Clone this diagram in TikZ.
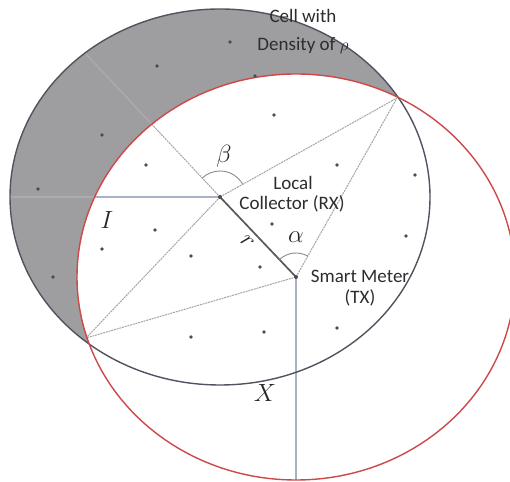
\documentclass[tikz,border=0pt]{standalone}
\usepackage{fontspec}
\setmainfont{Carlito}
\usetikzlibrary{calc}
\definecolor{cellgray}{RGB}{158,158,160}
\definecolor{celledge}{RGB}{80,84,96}
\definecolor{rangered}{RGB}{206,72,72}
\definecolor{guide}{RGB}{168,178,196}
\definecolor{chord}{RGB}{165,165,165}
\definecolor{txt}{RGB}{45,45,45}
\tikzset{
  chordline/.style={draw=chord, line width=1pt, dash pattern=on 2pt off 0.8pt},
  guideline/.style={draw=guide, line width=1.1pt},
  faintline/.style={draw=white, line width=1.2pt, opacity=0.15},
  linkline/.style={draw=black!65, line width=1.7pt},
  anglearc/.style={draw=black!45, line width=0.9pt},
  userdot/.style={circle, fill=black!70, inner sep=0pt, minimum size=3.6pt},
  lbl/.style={text=txt, font=\fontsize{19}{22}\selectfont, inner sep=0pt, align=center},
  mathlbl/.style={text=black!85, font=\fontsize{25}{28}\selectfont, inner sep=0pt}
}
\begin{document}
\begin{tikzpicture}[x=1pt,y=1pt]
\useasboundingbox (0,0) rectangle (510,481);
\coordinate (RX) at (220,284);
\coordinate (TX) at (296,204);
\coordinate (P1) at (397,383);
\coordinate (P2) at (86,143);
\coordinate (Lend) at (10,284);
\coordinate (Eend) at (85,428);
\coordinate (Bend) at (296,1);
% cell fill
\fill[cellgray] (RX) ellipse [x radius=210, y radius=188];
% faint guide lines inside the shaded cell
\draw[faintline] (RX) -- (Lend);
\draw[faintline] (RX) -- (Eend);
% coverage region
\fill[white] (TX) ellipse [x radius=219, y radius=203];
\begin{scope}
  \clip (TX) ellipse [x radius=219, y radius=203];
  \draw[guideline] (RX) -- (Lend);
  \draw[chordline] (RX) -- (Eend);
\end{scope}
\draw[guideline] (TX) -- (Bend);
\draw[chordline] (RX) -- (P1);
\draw[chordline] (RX) -- (P2);
\draw[chordline] (TX) -- (P1);
\draw[chordline] (TX) -- (P2);
\draw[linkline] (RX) -- (TX);
% angle arcs
\draw[anglearc] ($(RX)+(29.2:26)$) arc[start angle=29.2, end angle=133.4, radius=26];
\draw[anglearc] ($(TX)+(60.6:24)$) arc[start angle=60.6, end angle=133.5, radius=24];
% outlines
\draw[celledge, line width=1.4pt] (RX) ellipse [x radius=210, y radius=188];
\draw[rangered, line width=1.4pt] (TX) ellipse [x radius=219, y radius=203];
% users
\foreach \px/\py [count=\i] in {230/439,157/415,255/405,274/366,102/346,146/316,337/316,415/306,38/292,155/251,272/257,406/245,102/232,191/225,260/214,53/204,191/144,264/149,337/153}
  \node[userdot] (u\i) at (\px,\py) {};
\node[userdot, minimum size=4pt] (rxdot) at (RX) {};
\node[userdot, minimum size=4pt] (txdot) at (TX) {};
% labels
\node[lbl] (cell1) at (303,465) {Cell with};
\node[lbl] (cell2) at (303,435) {Density of $\rho$};
\node[lbl] (local) at (293,298) {Local};
\node[lbl] (coll) at (292,277) {Collector (RX)};
\node[lbl] (sm) at (360,205) {Smart Meter};
\node[lbl] (tx) at (360,183) {(TX)};
\node[mathlbl] (beta) at (224,325) {$\beta$};
\node[mathlbl] (alpha) at (296,244) {$\alpha$};
\node[mathlbl] (I) at (107,261) {$I$};
\node[mathlbl] (X) at (265,88) {$X$};
\node[mathlbl, rotate=-45] (r) at (247,239) {$r$};
\end{tikzpicture}
\end{document}
